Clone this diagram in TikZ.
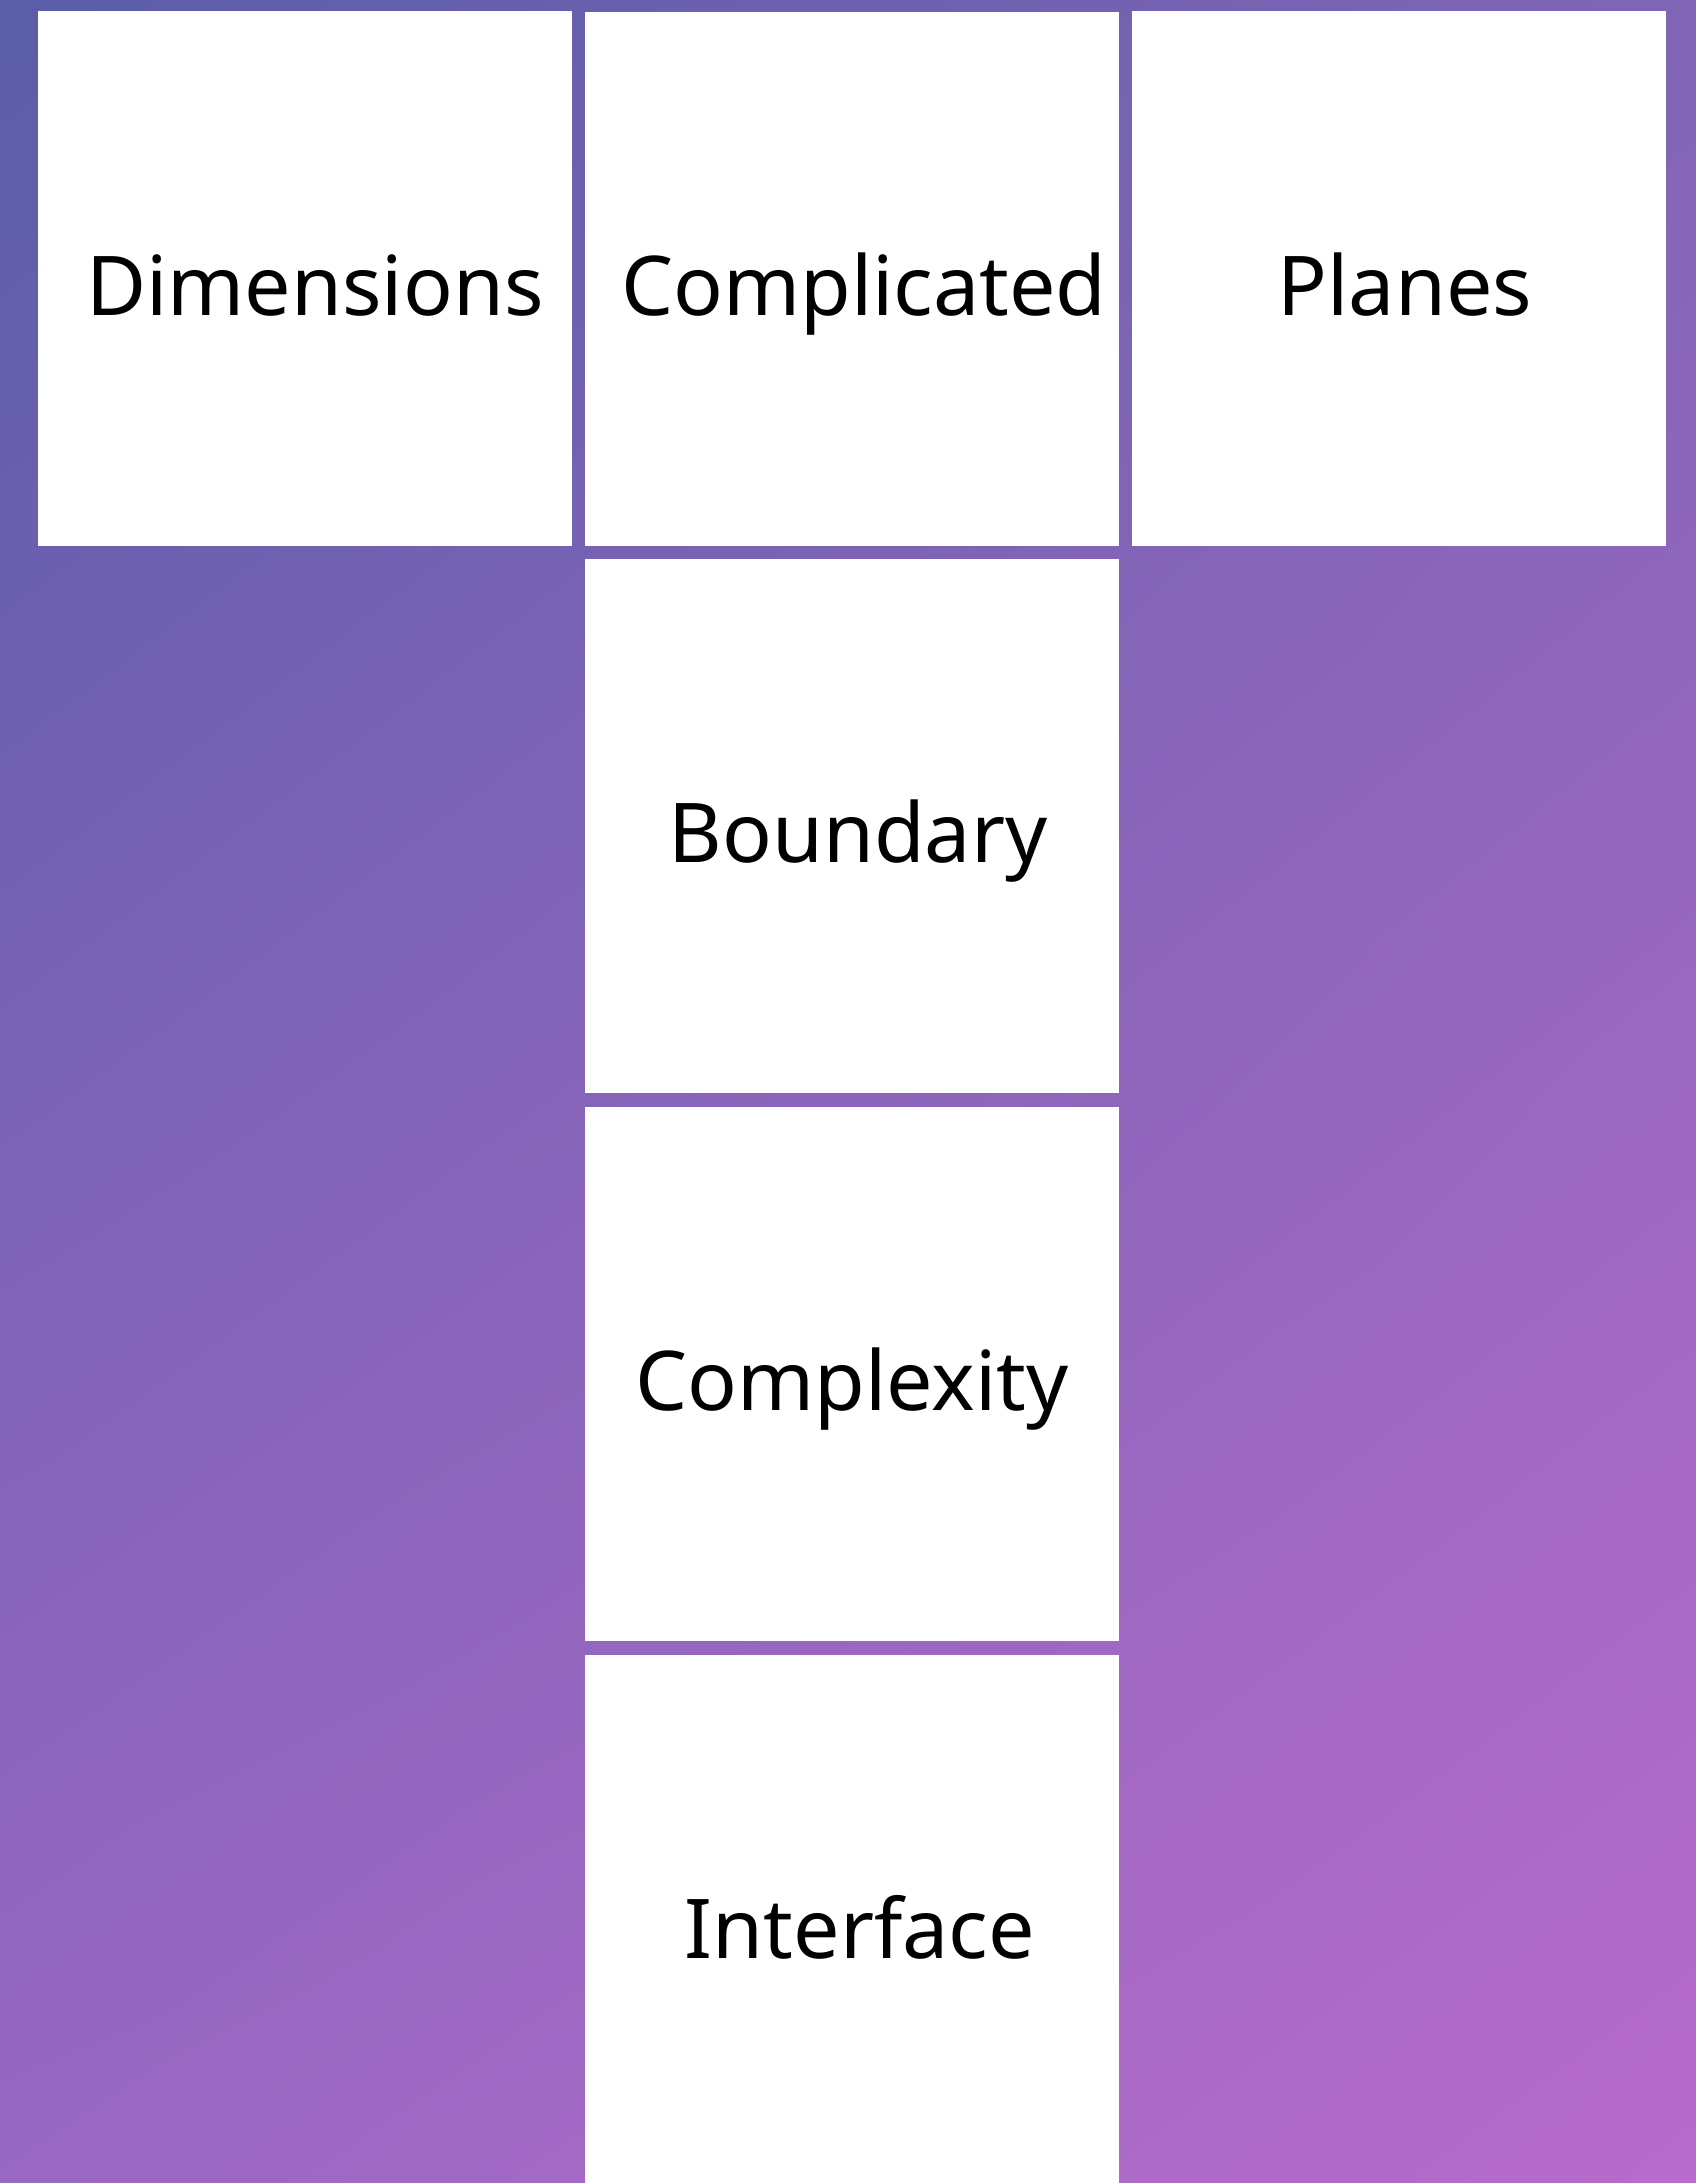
\documentclass[tikz,border=0pt]{standalone}
\usepackage{fontspec}
\setmainfont{Noto Sans}
\usetikzlibrary{shadings}
\definecolor{bgTL}{HTML}{5A5DA8}
\definecolor{bgTR}{HTML}{8065B6}
\definecolor{bgBL}{HTML}{9868C2}
\definecolor{bgBR}{HTML}{B86BCC}
\begin{document}
\begin{tikzpicture}[x=1pt,y=-1pt,
  tile/.style={fill=white, draw=none, minimum width=534pt, minimum height=534pt,
    inner sep=0pt, text height=73pt, text depth=0pt,
    font=\fontsize{82.5}{96}\selectfont}]
  % canvas with diagonal-ish purple gradient
  \useasboundingbox (0,0) rectangle (1696,2183);
  \clip (0,0) rectangle (1696,2183);
  \shade[upper left=bgTL, upper right=bgTR, lower left=bgBL, lower right=bgBR]
    (0,0) rectangle (1696,2183);
  % top row
  \node[tile] (dim)  at (305,278.5) {\hspace*{20pt}Dimensions};
  \node[tile] (comp) at (852,279)   {\hspace*{24pt}Complicated};
  \node[tile] (pla)  at (1399,278.5){\hspace*{12pt}Planes};
  % centre column
  \node[tile] (bnd)  at (852,826)   {\hspace*{12pt}Boundary};
  \node[tile] (cpx)  at (852,1374)  {Complexity};
  \node[tile] (itf)  at (852,1922)  {\hspace*{16pt}Interface};
\end{tikzpicture}
\end{document}
